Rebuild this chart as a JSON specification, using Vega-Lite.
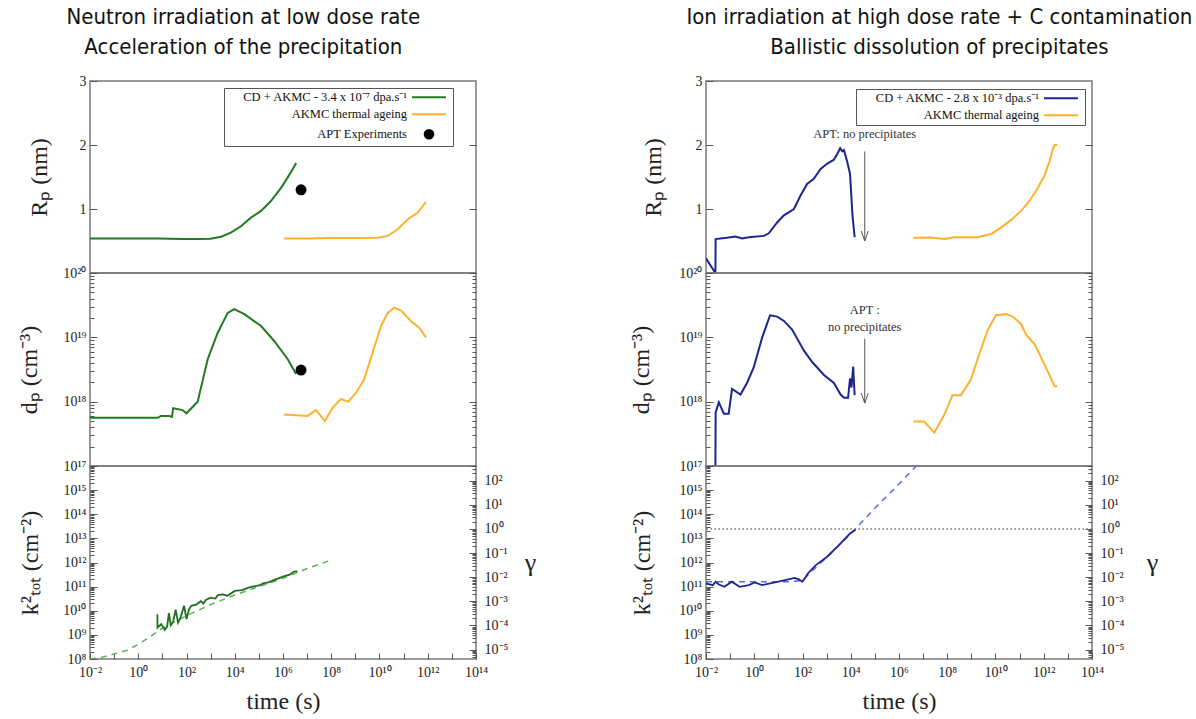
{
  "$schema": "https://vega.github.io/schema/vega-lite/v6.json",
  "background": "white",
  "padding": {"left": 16, "top": 6, "right": 5, "bottom": 5},
  "spacing": 91,
  "datasets": {
    "L_Rp": [
      {"t": 0.01, "Rp": 0.54, "series": "CD + AKMC - 3.4 x 10⁻⁷ dpa.s⁻¹"},
      {"t": 1, "Rp": 0.54, "series": "CD + AKMC - 3.4 x 10⁻⁷ dpa.s⁻¹"},
      {"t": 6.5, "Rp": 0.54, "series": "CD + AKMC - 3.4 x 10⁻⁷ dpa.s⁻¹"},
      {"t": 20, "Rp": 0.535, "series": "CD + AKMC - 3.4 x 10⁻⁷ dpa.s⁻¹"},
      {"t": 79, "Rp": 0.53, "series": "CD + AKMC - 3.4 x 10⁻⁷ dpa.s⁻¹"},
      {"t": 300, "Rp": 0.532, "series": "CD + AKMC - 3.4 x 10⁻⁷ dpa.s⁻¹"},
      {"t": 1000, "Rp": 0.535, "series": "CD + AKMC - 3.4 x 10⁻⁷ dpa.s⁻¹"},
      {"t": 2700, "Rp": 0.567, "series": "CD + AKMC - 3.4 x 10⁻⁷ dpa.s⁻¹"},
      {"t": 6900, "Rp": 0.63, "series": "CD + AKMC - 3.4 x 10⁻⁷ dpa.s⁻¹"},
      {"t": 18000, "Rp": 0.73, "series": "CD + AKMC - 3.4 x 10⁻⁷ dpa.s⁻¹"},
      {"t": 47000, "Rp": 0.865, "series": "CD + AKMC - 3.4 x 10⁻⁷ dpa.s⁻¹"},
      {"t": 123000, "Rp": 0.97, "series": "CD + AKMC - 3.4 x 10⁻⁷ dpa.s⁻¹"},
      {"t": 316000, "Rp": 1.125, "series": "CD + AKMC - 3.4 x 10⁻⁷ dpa.s⁻¹"},
      {"t": 830000, "Rp": 1.33, "series": "CD + AKMC - 3.4 x 10⁻⁷ dpa.s⁻¹"},
      {"t": 1550000, "Rp": 1.49, "series": "CD + AKMC - 3.4 x 10⁻⁷ dpa.s⁻¹"},
      {"t": 2500000, "Rp": 1.62, "series": "CD + AKMC - 3.4 x 10⁻⁷ dpa.s⁻¹"},
      {"t": 3500000, "Rp": 1.72, "series": "CD + AKMC - 3.4 x 10⁻⁷ dpa.s⁻¹"},
      {"t": 1.12e6, "Rp": 0.54, "series": "AKMC thermal ageing"},
      {"t": 1e7, "Rp": 0.54, "series": "AKMC thermal ageing"},
      {"t": 1e8, "Rp": 0.545, "series": "AKMC thermal ageing"},
      {"t": 1e9, "Rp": 0.545, "series": "AKMC thermal ageing"},
      {"t": 8.3e9, "Rp": 0.55, "series": "AKMC thermal ageing"},
      {"t": 2.2e10, "Rp": 0.58, "series": "AKMC thermal ageing"},
      {"t": 5.6e10, "Rp": 0.68, "series": "AKMC thermal ageing"},
      {"t": 1.48e11, "Rp": 0.84, "series": "AKMC thermal ageing"},
      {"t": 3.8e11, "Rp": 0.94, "series": "AKMC thermal ageing"},
      {"t": 8.5e11, "Rp": 1.11, "series": "AKMC thermal ageing"}
    ],
    "APT": [
      {"t": 5.6e6, "Rp": 1.3, "dp": 3.1e18, "series": "APT Experiments"}
    ],
    "L_dp": [
      {"t": 0.01, "dp": 5.6e17, "series": "CD + AKMC - 3.4 x 10⁻⁷ dpa.s⁻¹"},
      {"t": 6.5, "dp": 5.6e17, "series": "CD + AKMC - 3.4 x 10⁻⁷ dpa.s⁻¹"},
      {"t": 8.7, "dp": 6.0e17, "series": "CD + AKMC - 3.4 x 10⁻⁷ dpa.s⁻¹"},
      {"t": 19.5, "dp": 6.0e17, "series": "CD + AKMC - 3.4 x 10⁻⁷ dpa.s⁻¹"},
      {"t": 25, "dp": 5.8e17, "series": "CD + AKMC - 3.4 x 10⁻⁷ dpa.s⁻¹"},
      {"t": 28, "dp": 7.9e17, "series": "CD + AKMC - 3.4 x 10⁻⁷ dpa.s⁻¹"},
      {"t": 69, "dp": 7.4e17, "series": "CD + AKMC - 3.4 x 10⁻⁷ dpa.s⁻¹"},
      {"t": 100, "dp": 6.6e17, "series": "CD + AKMC - 3.4 x 10⁻⁷ dpa.s⁻¹"},
      {"t": 290, "dp": 1.0e18, "series": "CD + AKMC - 3.4 x 10⁻⁷ dpa.s⁻¹"},
      {"t": 760, "dp": 4.6e18, "series": "CD + AKMC - 3.4 x 10⁻⁷ dpa.s⁻¹"},
      {"t": 1950, "dp": 1.17e19, "series": "CD + AKMC - 3.4 x 10⁻⁷ dpa.s⁻¹"},
      {"t": 5100, "dp": 2.4e19, "series": "CD + AKMC - 3.4 x 10⁻⁷ dpa.s⁻¹"},
      {"t": 9500, "dp": 2.75e19, "series": "CD + AKMC - 3.4 x 10⁻⁷ dpa.s⁻¹"},
      {"t": 25000, "dp": 2.3e19, "series": "CD + AKMC - 3.4 x 10⁻⁷ dpa.s⁻¹"},
      {"t": 123000, "dp": 1.5e19, "series": "CD + AKMC - 3.4 x 10⁻⁷ dpa.s⁻¹"},
      {"t": 440000, "dp": 8.7e18, "series": "CD + AKMC - 3.4 x 10⁻⁷ dpa.s⁻¹"},
      {"t": 1550000, "dp": 4.6e18, "series": "CD + AKMC - 3.4 x 10⁻⁷ dpa.s⁻¹"},
      {"t": 3500000, "dp": 2.7e18, "series": "CD + AKMC - 3.4 x 10⁻⁷ dpa.s⁻¹"},
      {"t": 1.12e6, "dp": 6.3e17, "series": "AKMC thermal ageing"},
      {"t": 1.05e7, "dp": 6.0e17, "series": "AKMC thermal ageing"},
      {"t": 2.3e7, "dp": 7.4e17, "series": "AKMC thermal ageing"},
      {"t": 5.5e7, "dp": 5.0e17, "series": "AKMC thermal ageing"},
      {"t": 1.15e8, "dp": 8.1e17, "series": "AKMC thermal ageing"},
      {"t": 2.5e8, "dp": 1.1e18, "series": "AKMC thermal ageing"},
      {"t": 5.1e8, "dp": 1.0e18, "series": "AKMC thermal ageing"},
      {"t": 1.07e9, "dp": 1.38e18, "series": "AKMC thermal ageing"},
      {"t": 2.3e9, "dp": 2.2e18, "series": "AKMC thermal ageing"},
      {"t": 5.2e9, "dp": 5.8e18, "series": "AKMC thermal ageing"},
      {"t": 1.15e10, "dp": 1.5e19, "series": "AKMC thermal ageing"},
      {"t": 2.2e10, "dp": 2.4e19, "series": "AKMC thermal ageing"},
      {"t": 4.1e10, "dp": 2.9e19, "series": "AKMC thermal ageing"},
      {"t": 7.8e10, "dp": 2.6e19, "series": "AKMC thermal ageing"},
      {"t": 2.0e11, "dp": 1.8e19, "series": "AKMC thermal ageing"},
      {"t": 4.5e11, "dp": 1.4e19, "series": "AKMC thermal ageing"},
      {"t": 8.5e11, "dp": 1.0e19, "series": "AKMC thermal ageing"}
    ],
    "L_k2": [
      {"t": 6.2, "k2": 7.2e9}, {"t": 6.3, "k2": 2.0e9}, {"t": 8.9, "k2": 2.8e9}, {"t": 12.6, "k2": 1.6e9},
      {"t": 15.8, "k2": 2.2e9}, {"t": 18.6, "k2": 7.9e9}, {"t": 22.4, "k2": 2.5e9}, {"t": 28, "k2": 3.5e9},
      {"t": 35.5, "k2": 1.12e10}, {"t": 44.7, "k2": 3.2e9}, {"t": 56, "k2": 5.0e9}, {"t": 79, "k2": 1.6e10},
      {"t": 100, "k2": 4.5e9}, {"t": 126, "k2": 1.12e10}, {"t": 158, "k2": 1.6e10}, {"t": 251, "k2": 1.8e10},
      {"t": 398, "k2": 2.5e10}, {"t": 500, "k2": 2.0e10}, {"t": 631, "k2": 2.8e10}, {"t": 1000, "k2": 3.5e10},
      {"t": 1585, "k2": 3.2e10}, {"t": 2000, "k2": 4.5e10}, {"t": 3160, "k2": 4.8e10}, {"t": 5000, "k2": 4.2e10},
      {"t": 10000, "k2": 6.6e10}, {"t": 20000, "k2": 7.1e10}, {"t": 40000, "k2": 9.3e10}, {"t": 100000, "k2": 1.12e11},
      {"t": 160000, "k2": 1.4e11}, {"t": 250000, "k2": 1.5e11}, {"t": 500000, "k2": 2.0e11}, {"t": 1000000, "k2": 2.6e11},
      {"t": 2000000, "k2": 3.2e11}, {"t": 2800000, "k2": 4.2e11}, {"t": 4000000, "k2": 4.3e11}
    ],
    "L_k2fit": [
      {"t": 0.01, "k2": 1.0e8}, {"t": 0.03, "k2": 1.17e8}, {"t": 0.1, "k2": 1.6e8}, {"t": 0.32, "k2": 2.24e8},
      {"t": 1, "k2": 4.0e8}, {"t": 3.2, "k2": 8.5e8}, {"t": 10, "k2": 1.9e9}, {"t": 100, "k2": 6.3e9},
      {"t": 1000, "k2": 1.8e10}, {"t": 10000, "k2": 4.5e10}, {"t": 100000, "k2": 1.0e11}, {"t": 1000000, "k2": 2.2e11},
      {"t": 10000000, "k2": 5.6e11}, {"t": 100000000, "k2": 1.26e12}
    ],
    "R_Rp": [
      {"t": 0.01, "Rp": 0.23, "series": "CD + AKMC - 2.8 x 10⁻³ dpa.s⁻¹"},
      {"t": 0.0245, "Rp": 0.0, "series": "CD + AKMC - 2.8 x 10⁻³ dpa.s⁻¹"},
      {"t": 0.0251, "Rp": 0.53, "series": "CD + AKMC - 2.8 x 10⁻³ dpa.s⁻¹"},
      {"t": 0.074, "Rp": 0.55, "series": "CD + AKMC - 2.8 x 10⁻³ dpa.s⁻¹"},
      {"t": 0.166, "Rp": 0.57, "series": "CD + AKMC - 2.8 x 10⁻³ dpa.s⁻¹"},
      {"t": 0.316, "Rp": 0.54, "series": "CD + AKMC - 2.8 x 10⁻³ dpa.s⁻¹"},
      {"t": 0.59, "Rp": 0.56, "series": "CD + AKMC - 2.8 x 10⁻³ dpa.s⁻¹"},
      {"t": 2.5, "Rp": 0.58, "series": "CD + AKMC - 2.8 x 10⁻³ dpa.s⁻¹"},
      {"t": 4.0, "Rp": 0.62, "series": "CD + AKMC - 2.8 x 10⁻³ dpa.s⁻¹"},
      {"t": 8.9, "Rp": 0.79, "series": "CD + AKMC - 2.8 x 10⁻³ dpa.s⁻¹"},
      {"t": 17, "Rp": 0.9, "series": "CD + AKMC - 2.8 x 10⁻³ dpa.s⁻¹"},
      {"t": 44, "Rp": 1.0, "series": "CD + AKMC - 2.8 x 10⁻³ dpa.s⁻¹"},
      {"t": 83, "Rp": 1.21, "series": "CD + AKMC - 2.8 x 10⁻³ dpa.s⁻¹"},
      {"t": 155, "Rp": 1.39, "series": "CD + AKMC - 2.8 x 10⁻³ dpa.s⁻¹"},
      {"t": 295, "Rp": 1.47, "series": "CD + AKMC - 2.8 x 10⁻³ dpa.s⁻¹"},
      {"t": 562, "Rp": 1.625, "series": "CD + AKMC - 2.8 x 10⁻³ dpa.s⁻¹"},
      {"t": 1070, "Rp": 1.71, "series": "CD + AKMC - 2.8 x 10⁻³ dpa.s⁻¹"},
      {"t": 2000, "Rp": 1.77, "series": "CD + AKMC - 2.8 x 10⁻³ dpa.s⁻¹"},
      {"t": 2750, "Rp": 1.86, "series": "CD + AKMC - 2.8 x 10⁻³ dpa.s⁻¹"},
      {"t": 3630, "Rp": 1.95, "series": "CD + AKMC - 2.8 x 10⁻³ dpa.s⁻¹"},
      {"t": 4470, "Rp": 1.9, "series": "CD + AKMC - 2.8 x 10⁻³ dpa.s⁻¹"},
      {"t": 5250, "Rp": 1.92, "series": "CD + AKMC - 2.8 x 10⁻³ dpa.s⁻¹"},
      {"t": 7240, "Rp": 1.73, "series": "CD + AKMC - 2.8 x 10⁻³ dpa.s⁻¹"},
      {"t": 9330, "Rp": 1.55, "series": "CD + AKMC - 2.8 x 10⁻³ dpa.s⁻¹"},
      {"t": 11700, "Rp": 0.92, "series": "CD + AKMC - 2.8 x 10⁻³ dpa.s⁻¹"},
      {"t": 14500, "Rp": 0.56, "series": "CD + AKMC - 2.8 x 10⁻³ dpa.s⁻¹"},
      {"t": 3.9e6, "Rp": 0.55, "series": "AKMC thermal ageing"},
      {"t": 2e7, "Rp": 0.555, "series": "AKMC thermal ageing"},
      {"t": 7.6e7, "Rp": 0.53, "series": "AKMC thermal ageing"},
      {"t": 1.95e8, "Rp": 0.56, "series": "AKMC thermal ageing"},
      {"t": 1.8e9, "Rp": 0.56, "series": "AKMC thermal ageing"},
      {"t": 6.6e9, "Rp": 0.61, "series": "AKMC thermal ageing"},
      {"t": 1.7e10, "Rp": 0.71, "series": "AKMC thermal ageing"},
      {"t": 4.5e10, "Rp": 0.83, "series": "AKMC thermal ageing"},
      {"t": 1.15e11, "Rp": 0.97, "series": "AKMC thermal ageing"},
      {"t": 2.6e11, "Rp": 1.13, "series": "AKMC thermal ageing"},
      {"t": 4.9e11, "Rp": 1.29, "series": "AKMC thermal ageing"},
      {"t": 1.07e12, "Rp": 1.52, "series": "AKMC thermal ageing"},
      {"t": 1.74e12, "Rp": 1.75, "series": "AKMC thermal ageing"},
      {"t": 2.4e12, "Rp": 1.94, "series": "AKMC thermal ageing"},
      {"t": 2.8e12, "Rp": 2.0, "series": "AKMC thermal ageing"},
      {"t": 3.6e12, "Rp": 2.0, "series": "AKMC thermal ageing"}
    ],
    "R_dp": [
      {"t": 0.0245, "dp": 7.9e16, "series": "CD + AKMC - 2.8 x 10⁻³ dpa.s⁻¹"},
      {"t": 0.0251, "dp": 6.8e17, "series": "CD + AKMC - 2.8 x 10⁻³ dpa.s⁻¹"},
      {"t": 0.034, "dp": 9.8e17, "series": "CD + AKMC - 2.8 x 10⁻³ dpa.s⁻¹"},
      {"t": 0.055, "dp": 6.5e17, "series": "CD + AKMC - 2.8 x 10⁻³ dpa.s⁻¹"},
      {"t": 0.087, "dp": 6.5e17, "series": "CD + AKMC - 2.8 x 10⁻³ dpa.s⁻¹"},
      {"t": 0.12, "dp": 1.58e18, "series": "CD + AKMC - 2.8 x 10⁻³ dpa.s⁻¹"},
      {"t": 0.27, "dp": 1.29e18, "series": "CD + AKMC - 2.8 x 10⁻³ dpa.s⁻¹"},
      {"t": 0.5, "dp": 1.95e18, "series": "CD + AKMC - 2.8 x 10⁻³ dpa.s⁻¹"},
      {"t": 0.95, "dp": 3.4e18, "series": "CD + AKMC - 2.8 x 10⁻³ dpa.s⁻¹"},
      {"t": 2.1, "dp": 9.8e18, "series": "CD + AKMC - 2.8 x 10⁻³ dpa.s⁻¹"},
      {"t": 4.5, "dp": 2.2e19, "series": "CD + AKMC - 2.8 x 10⁻³ dpa.s⁻¹"},
      {"t": 8.9, "dp": 2.1e19, "series": "CD + AKMC - 2.8 x 10⁻³ dpa.s⁻¹"},
      {"t": 17, "dp": 1.8e19, "series": "CD + AKMC - 2.8 x 10⁻³ dpa.s⁻¹"},
      {"t": 37, "dp": 1.32e19, "series": "CD + AKMC - 2.8 x 10⁻³ dpa.s⁻¹"},
      {"t": 115, "dp": 6.2e18, "series": "CD + AKMC - 2.8 x 10⁻³ dpa.s⁻¹"},
      {"t": 257, "dp": 4.1e18, "series": "CD + AKMC - 2.8 x 10⁻³ dpa.s⁻¹"},
      {"t": 776, "dp": 2.6e18, "series": "CD + AKMC - 2.8 x 10⁻³ dpa.s⁻¹"},
      {"t": 2000, "dp": 1.95e18, "series": "CD + AKMC - 2.8 x 10⁻³ dpa.s⁻¹"},
      {"t": 3800, "dp": 1.29e18, "series": "CD + AKMC - 2.8 x 10⁻³ dpa.s⁻¹"},
      {"t": 5250, "dp": 1.15e18, "series": "CD + AKMC - 2.8 x 10⁻³ dpa.s⁻¹"},
      {"t": 7760, "dp": 1.15e18, "series": "CD + AKMC - 2.8 x 10⁻³ dpa.s⁻¹"},
      {"t": 9330, "dp": 2.3e18, "series": "CD + AKMC - 2.8 x 10⁻³ dpa.s⁻¹"},
      {"t": 10700, "dp": 1.66e18, "series": "CD + AKMC - 2.8 x 10⁻³ dpa.s⁻¹"},
      {"t": 12600, "dp": 3.5e18, "series": "CD + AKMC - 2.8 x 10⁻³ dpa.s⁻¹"},
      {"t": 14500, "dp": 1.26e18, "series": "CD + AKMC - 2.8 x 10⁻³ dpa.s⁻¹"},
      {"t": 3.9e6, "dp": 4.9e17, "series": "AKMC thermal ageing"},
      {"t": 1.1e7, "dp": 4.9e17, "series": "AKMC thermal ageing"},
      {"t": 2.9e7, "dp": 3.3e17, "series": "AKMC thermal ageing"},
      {"t": 7.6e7, "dp": 6.3e17, "series": "AKMC thermal ageing"},
      {"t": 1.66e8, "dp": 1.26e18, "series": "AKMC thermal ageing"},
      {"t": 3.7e8, "dp": 1.26e18, "series": "AKMC thermal ageing"},
      {"t": 9.5e8, "dp": 2.2e18, "series": "AKMC thermal ageing"},
      {"t": 2.1e9, "dp": 5.4e18, "series": "AKMC thermal ageing"},
      {"t": 4.8e9, "dp": 1.32e19, "series": "AKMC thermal ageing"},
      {"t": 1.05e10, "dp": 2.2e19, "series": "AKMC thermal ageing"},
      {"t": 2.75e10, "dp": 2.3e19, "series": "AKMC thermal ageing"},
      {"t": 5.2e10, "dp": 2.1e19, "series": "AKMC thermal ageing"},
      {"t": 1.15e11, "dp": 1.6e19, "series": "AKMC thermal ageing"},
      {"t": 1.86e11, "dp": 1.1e19, "series": "AKMC thermal ageing"},
      {"t": 4.2e11, "dp": 7.8e18, "series": "AKMC thermal ageing"},
      {"t": 9.1e11, "dp": 4.3e18, "series": "AKMC thermal ageing"},
      {"t": 2.0e12, "dp": 2.3e18, "series": "AKMC thermal ageing"},
      {"t": 2.8e12, "dp": 1.74e18, "series": "AKMC thermal ageing"},
      {"t": 3.6e12, "dp": 1.74e18, "series": "AKMC thermal ageing"}
    ],
    "R_k2": [
      {"t": 0.01, "k2": 1.35e11}, {"t": 0.019, "k2": 1.15e11}, {"t": 0.025, "k2": 1.6e11}, {"t": 0.033, "k2": 1.26e11},
      {"t": 0.058, "k2": 9.8e10}, {"t": 0.117, "k2": 1.6e11}, {"t": 0.245, "k2": 9.8e10}, {"t": 0.6, "k2": 1.15e11},
      {"t": 1.05, "k2": 1.48e11}, {"t": 2.1, "k2": 1.15e11}, {"t": 6.5, "k2": 1.48e11}, {"t": 19, "k2": 1.86e11},
      {"t": 47, "k2": 2.3e11}, {"t": 71, "k2": 2.0e11}, {"t": 98, "k2": 1.6e11}, {"t": 126, "k2": 2.2e11},
      {"t": 166, "k2": 3.5e11}, {"t": 347, "k2": 7.6e11}, {"t": 1020, "k2": 1.7e12}, {"t": 3090, "k2": 5.0e12},
      {"t": 9120, "k2": 1.55e13}, {"t": 15800, "k2": 2.3e13}
    ],
    "R_k2fit": [
      {"t": 0.01, "k2": 1.6e11}, {"t": 31.6, "k2": 1.6e11}, {"t": 100, "k2": 1.8e11}, {"t": 316, "k2": 5.6e11},
      {"t": 1000, "k2": 1.6e12}, {"t": 3160, "k2": 5.0e12}, {"t": 15800, "k2": 2.5e13}, {"t": 100000, "k2": 1.8e14},
      {"t": 1000000, "k2": 1.8e15}, {"t": 10000000, "k2": 2.0e16}
    ],
    "gamma": [{"gamma": 1}],
    "R_arrRp": [{"t": 38000, "y1": 1.9, "y2": 0.5}],
    "R_arrDp": [{"t": 38000, "y1": 9.5e18, "y2": 9.5e17}],
    "R_txtRp": [{"t": 38000, "Rp": 2.17, "label": "APT: no precipitates"}],
    "R_txtDp": [
      {"t": 38000, "dp": 2.7e19, "label": "APT :"},
      {"t": 38000, "dp": 1.45e19, "label": "no precipitates"}
    ]
  },
  "hconcat": [
    {
      "title": {"text": ["Neutron irradiation at low dose rate", "Acceleration of the precipitation"], "anchor": "middle", "fontSize": 22, "fontWeight": "normal", "color": "#111", "lineHeight": 30, "offset": 14, "dx": -33},
      "spacing": 0,
      "bounds": "flush",
      "resolve": {"scale": {"color": "independent", "x": "independent", "y": "independent"}},
      "vconcat": [
        {
          "width": 386, "height": 192,
          "layer": [
            {"layer": [
              {"data": {"name": "L_Rp"}, "mark": {"type": "line", "strokeWidth": 2, "clip": true},
               "encoding": {
                 "x": {"field": "t", "type": "quantitative", "scale": {"type": "log", "domain": [0.01, 1e14], "nice": false}, "axis": null},
                 "y": {"field": "Rp", "type": "quantitative", "scale": {"domain": [0, 3], "nice": false, "zero": false},
                       "axis": {"orient": "left", "values": [1, 2, 3], "format": "d", "tickSize": -7, "labelPadding": 11, "title": "Rₚ (nm)", "titleAngle": 270, "titleAlign": "center", "titleBaseline": "middle", "titleX": -51, "titleY": 96}},
                 "color": {"field": "series", "type": "nominal",
                   "scale": {"domain": ["CD + AKMC - 3.4 x 10⁻⁷ dpa.s⁻¹", "AKMC thermal ageing", "APT Experiments"], "range": ["#237a23", "#ffb12e", "#000000"]},
                   "legend": {"orient": "none", "legendX": 134, "legendY": 7, "title": null, "direction": "vertical",
                     "strokeColor": "#555", "fillColor": "white", "padding": 3, "rowPadding": 4,
                     "labelFont": "Liberation Serif", "labelFontSize": 12.5, "labelColor": "#111", "labelAlign": "right", "labelLimit": 0,
                     "symbolType": "M-4,0H4", "symbolSize": 72, "symbolStrokeWidth": 2,
                     "encode": {
                       "labels": {"update": {"x": {"value": 180}}},
                       "symbols": {"update": {"x": {"value": 202}, "shape": {"signal": "datum.value === 'APT Experiments' ? 'circle' : 'M-4,0H4'"}, "size": {"signal": "datum.value === 'APT Experiments' ? 75 : 72"}, "fill": {"signal": "datum.value === 'APT Experiments' ? 'black' : 'transparent'"}}}
                     }}}
               }},
              {"data": {"name": "APT"}, "mark": {"type": "point", "filled": true, "size": 120, "opacity": 1},
               "encoding": {"x": {"field": "t", "type": "quantitative"}, "y": {"field": "Rp", "type": "quantitative"}, "color": {"field": "series", "type": "nominal"}}}
            ]},
            {"data": {"name": "L_Rp"}, "mark": {"type": "point", "opacity": 0},
             "encoding": {"x": {"field": "t", "type": "quantitative"},
               "y": {"field": "Rp", "type": "quantitative", "scale": {"domain": [0, 3], "nice": false, "zero": false}, "axis": {"orient": "right", "values": [1, 2], "tickSize": -7, "labels": false, "title": null}}}}
          ],
          "resolve": {"scale": {"y": "independent"}}
        },
        {
          "width": 386, "height": 193,
          "layer": [
            {"layer": [
              {"data": {"name": "L_dp"}, "mark": {"type": "line", "strokeWidth": 2, "clip": true},
               "encoding": {
                 "x": {"field": "t", "type": "quantitative", "scale": {"type": "log", "domain": [0.01, 1e14], "nice": false}, "axis": null},
                 "y": {"field": "dp", "type": "quantitative", "scale": {"type": "log", "domain": [1e17, 1e20], "nice": false},
                       "axis": {"orient": "left", "values": [1e17,2e17,3e17,4e17,5e17,6e17,7e17,8e17,9e17,1e18,2e18,3e18,4e18,5e18,6e18,7e18,8e18,9e18,1e19,2e19,3e19,4e19,5e19,6e19,7e19,8e19,9e19,1e20],
                         "tickSize": {"condition": {"test": "abs(log(datum.value)/LN10 - round(log(datum.value)/LN10)) < 0.001", "value": -7}, "value": -4},
                         "labelPadding": 11,
                         "labelExpr": "abs(log(datum.value)/LN10 - round(log(datum.value)/LN10)) < 0.001 ? '10' + (round(log(datum.value)/LN10) < 0 ? '⁻' : '') + (abs(round(log(datum.value)/LN10)) >= 10 ? substring('⁰¹²³⁴⁵⁶⁷⁸⁹', floor(abs(round(log(datum.value)/LN10))/10), floor(abs(round(log(datum.value)/LN10))/10) + 1) : '') + substring('⁰¹²³⁴⁵⁶⁷⁸⁹', abs(round(log(datum.value)/LN10)) % 10, abs(round(log(datum.value)/LN10)) % 10 + 1) : ''",
                         "title": "dₚ (cm⁻³)", "titleAngle": 270, "titleAlign": "center", "titleBaseline": "middle", "titleX": -61, "titleY": 96.5}},
                 "color": {"field": "series", "type": "nominal",
                   "scale": {"domain": ["CD + AKMC - 3.4 x 10⁻⁷ dpa.s⁻¹", "AKMC thermal ageing", "APT Experiments"], "range": ["#237a23", "#ffb12e", "#000000"]}, "legend": null}
               }},
              {"data": {"name": "APT"}, "mark": {"type": "point", "filled": true, "size": 120, "opacity": 1},
               "encoding": {"x": {"field": "t", "type": "quantitative"}, "y": {"field": "dp", "type": "quantitative"}, "color": {"field": "series", "type": "nominal"}}}
            ]},
            {"data": {"name": "L_dp"}, "mark": {"type": "point", "opacity": 0},
             "encoding": {"x": {"field": "t", "type": "quantitative"},
               "y": {"field": "dp", "type": "quantitative", "scale": {"type": "log", "domain": [1e17, 1e20], "nice": false},
                 "axis": {"orient": "right", "values": [1e17,2e17,3e17,4e17,5e17,6e17,7e17,8e17,9e17,1e18,2e18,3e18,4e18,5e18,6e18,7e18,8e18,9e18,1e19,2e19,3e19,4e19,5e19,6e19,7e19,8e19,9e19,1e20],
                   "tickSize": {"condition": {"test": "abs(log(datum.value)/LN10 - round(log(datum.value)/LN10)) < 0.001", "value": -7}, "value": -4},
                   "labels": false, "title": null}}}}
          ],
          "resolve": {"scale": {"y": "independent"}}
        },
        {
          "width": 386, "height": 193,
          "layer": [
            {"layer": [
              {"data": {"name": "L_k2fit"}, "mark": {"type": "line", "color": "#5cae5c", "strokeWidth": 1.5, "strokeDash": [6, 5], "clip": true},
               "encoding": {
                 "x": {"field": "t", "type": "quantitative", "scale": {"type": "log", "domain": [0.01, 1e14], "nice": false},
                       "axis": {"values": [1e-2,1e-1,1,10,100,1e3,1e4,1e5,1e6,1e7,1e8,1e9,1e10,1e11,1e12,1e13,1e14], "tickSize": -6, "labelPadding": 12,
                         "labelExpr": "round(log(datum.value)/LN10) % 2 == 0 ? '10' + (round(log(datum.value)/LN10) < 0 ? '⁻' : '') + (abs(round(log(datum.value)/LN10)) >= 10 ? substring('⁰¹²³⁴⁵⁶⁷⁸⁹', floor(abs(round(log(datum.value)/LN10))/10), floor(abs(round(log(datum.value)/LN10))/10) + 1) : '') + substring('⁰¹²³⁴⁵⁶⁷⁸⁹', abs(round(log(datum.value)/LN10)) % 10, abs(round(log(datum.value)/LN10)) % 10 + 1) : ''",
                         "title": "time (s)", "titlePadding": 10}},
                 "y": {"field": "k2", "type": "quantitative", "scale": {"type": "log", "domain": [1e8, 1e16], "nice": false},
                       "axis": {"orient": "left", "values": [1e8,2e8,3e8,4e8,5e8,6e8,7e8,8e8,9e8,1e9,2e9,3e9,4e9,5e9,6e9,7e9,8e9,9e9,1e10,2e10,3e10,4e10,5e10,6e10,7e10,8e10,9e10,1e11,2e11,3e11,4e11,5e11,6e11,7e11,8e11,9e11,1e12,2e12,3e12,4e12,5e12,6e12,7e12,8e12,9e12,1e13,2e13,3e13,4e13,5e13,6e13,7e13,8e13,9e13,1e14,2e14,3e14,4e14,5e14,6e14,7e14,8e14,9e14,1e15,2e15,3e15,4e15,5e15,6e15,7e15,8e15,9e15,1e16],
                         "tickSize": {"condition": {"test": "abs(log(datum.value)/LN10 - round(log(datum.value)/LN10)) < 0.001", "value": -7}, "value": -4},
                         "labelPadding": 11,
                         "labelExpr": "abs(log(datum.value)/LN10 - round(log(datum.value)/LN10)) < 0.001 && round(log(datum.value)/LN10) <= 15 ? '10' + (round(log(datum.value)/LN10) < 0 ? '⁻' : '') + (abs(round(log(datum.value)/LN10)) >= 10 ? substring('⁰¹²³⁴⁵⁶⁷⁸⁹', floor(abs(round(log(datum.value)/LN10))/10), floor(abs(round(log(datum.value)/LN10))/10) + 1) : '') + substring('⁰¹²³⁴⁵⁶⁷⁸⁹', abs(round(log(datum.value)/LN10)) % 10, abs(round(log(datum.value)/LN10)) % 10 + 1) : ''",
                         "title": "k²ₜₒₜ (cm⁻²)", "titleAngle": 270, "titleAlign": "center", "titleBaseline": "middle", "titleX": -60, "titleY": 96.5}}
               }},
              {"data": {"name": "L_k2"}, "mark": {"type": "line", "color": "#1f6f1f", "strokeWidth": 1.8, "clip": true},
               "encoding": {"x": {"field": "t", "type": "quantitative"}, "y": {"field": "k2", "type": "quantitative"}}}
            ]},
            {"data": {"name": "gamma"}, "mark": {"type": "rule", "opacity": 0},
             "encoding": {"y": {"field": "gamma", "type": "quantitative", "scale": {"type": "log", "domain": [4.07e-6, 407.4], "nice": false},
               "axis": {"orient": "right", "values": [5e-6,6e-6,7e-6,8e-6,9e-6,1e-5,2e-5,3e-5,4e-5,5e-5,6e-5,7e-5,8e-5,9e-5,1e-4,2e-4,3e-4,4e-4,5e-4,6e-4,7e-4,8e-4,9e-4,1e-3,2e-3,3e-3,4e-3,5e-3,6e-3,7e-3,8e-3,9e-3,1e-2,2e-2,3e-2,4e-2,5e-2,6e-2,7e-2,8e-2,9e-2,0.1,0.2,0.3,0.4,0.5,0.6,0.7,0.8,0.9,1,2,3,4,5,6,7,8,9,10,20,30,40,50,60,70,80,90,100,200,300,400],
                 "tickSize": {"condition": {"test": "abs(log(datum.value)/LN10 - round(log(datum.value)/LN10)) < 0.001", "value": -7}, "value": -4},
                 "labelPadding": 15,
                 "labelExpr": "abs(log(datum.value)/LN10 - round(log(datum.value)/LN10)) < 0.001 ? '10' + (round(log(datum.value)/LN10) < 0 ? '⁻' : '') + (abs(round(log(datum.value)/LN10)) >= 10 ? substring('⁰¹²³⁴⁵⁶⁷⁸⁹', floor(abs(round(log(datum.value)/LN10))/10), floor(abs(round(log(datum.value)/LN10))/10) + 1) : '') + substring('⁰¹²³⁴⁵⁶⁷⁸⁹', abs(round(log(datum.value)/LN10)) % 10, abs(round(log(datum.value)/LN10)) % 10 + 1) : ''",
                 "title": "γ", "titleFontSize": 26, "titleAngle": 0, "titleAlign": "center", "titleBaseline": "middle", "titleX": 54, "titleY": 96.5}}}}
          ],
          "resolve": {"scale": {"y": "independent"}}
        }
      ]
    },
    {
      "title": {"text": ["Ion irradiation at high dose rate + C contamination", "Ballistic dissolution of precipitates"], "anchor": "middle", "fontSize": 22, "fontWeight": "normal", "color": "#111", "lineHeight": 30, "offset": 14, "dx": 46},
      "spacing": 0,
      "bounds": "flush",
      "resolve": {"scale": {"color": "independent", "x": "independent", "y": "independent"}},
      "vconcat": [
        {
          "width": 386, "height": 192,
          "layer": [
            {"layer": [
              {"data": {"name": "R_Rp"}, "mark": {"type": "line", "strokeWidth": 2, "clip": true},
               "encoding": {
                 "x": {"field": "t", "type": "quantitative", "scale": {"type": "log", "domain": [0.01, 1e14], "nice": false}, "axis": null},
                 "y": {"field": "Rp", "type": "quantitative", "scale": {"domain": [0, 3], "nice": false, "zero": false},
                       "axis": {"orient": "left", "values": [1, 2, 3], "format": "d", "tickSize": -7, "labelPadding": 11, "title": "Rₚ (nm)", "titleAngle": 270, "titleAlign": "center", "titleBaseline": "middle", "titleX": -53, "titleY": 96}},
                 "color": {"field": "series", "type": "nominal",
                   "scale": {"domain": ["CD + AKMC - 2.8 x 10⁻³ dpa.s⁻¹", "AKMC thermal ageing"], "range": ["#1c2590", "#ffb12e"]},
                   "legend": {"orient": "none", "legendX": 150, "legendY": 8, "title": null, "direction": "vertical",
                     "strokeColor": "#555", "fillColor": "white", "padding": 3, "rowPadding": 4,
                     "labelFont": "Liberation Serif", "labelFontSize": 12.5, "labelColor": "#111", "labelAlign": "right", "labelLimit": 0,
                     "symbolType": "M-4,0H4", "symbolSize": 72, "symbolStrokeWidth": 2,
                     "encode": {
                       "labels": {"update": {"x": {"value": 180}}},
                       "symbols": {"update": {"x": {"value": 202}, "fill": {"value": "transparent"}}}
                     }}}
               }},
              {"data": {"name": "R_arrRp"}, "mark": {"type": "rule", "color": "#555", "strokeWidth": 1},
               "encoding": {"x": {"field": "t", "type": "quantitative"}, "y": {"field": "y1", "type": "quantitative"}, "y2": {"field": "y2"}}},
              {"data": {"name": "R_arrRp"}, "mark": {"type": "point", "shape": "M-0.35,-1L0,0L0.35,-1", "size": 400, "filled": false, "color": "#555", "strokeWidth": 1, "opacity": 1},
               "encoding": {"x": {"field": "t", "type": "quantitative"}, "y": {"field": "y2", "type": "quantitative"}}},
              {"data": {"name": "R_txtRp"}, "mark": {"type": "text", "font": "Liberation Serif", "fontSize": 12.5, "color": "#333"},
               "encoding": {"x": {"field": "t", "type": "quantitative"}, "y": {"field": "Rp", "type": "quantitative"}, "text": {"field": "label"}}}
            ]},
            {"data": {"name": "R_Rp"}, "mark": {"type": "point", "opacity": 0},
             "encoding": {"x": {"field": "t", "type": "quantitative"},
               "y": {"field": "Rp", "type": "quantitative", "scale": {"domain": [0, 3], "nice": false, "zero": false}, "axis": {"orient": "right", "values": [1, 2], "tickSize": -7, "labels": false, "title": null}}}}
          ],
          "resolve": {"scale": {"y": "independent"}}
        },
        {
          "width": 386, "height": 193,
          "layer": [
            {"layer": [
              {"data": {"name": "R_dp"}, "mark": {"type": "line", "strokeWidth": 2, "clip": true},
               "encoding": {
                 "x": {"field": "t", "type": "quantitative", "scale": {"type": "log", "domain": [0.01, 1e14], "nice": false}, "axis": null},
                 "y": {"field": "dp", "type": "quantitative", "scale": {"type": "log", "domain": [1e17, 1e20], "nice": false},
                       "axis": {"orient": "left", "values": [1e17,2e17,3e17,4e17,5e17,6e17,7e17,8e17,9e17,1e18,2e18,3e18,4e18,5e18,6e18,7e18,8e18,9e18,1e19,2e19,3e19,4e19,5e19,6e19,7e19,8e19,9e19,1e20],
                         "tickSize": {"condition": {"test": "abs(log(datum.value)/LN10 - round(log(datum.value)/LN10)) < 0.001", "value": -7}, "value": -4},
                         "labelPadding": 11,
                         "labelExpr": "abs(log(datum.value)/LN10 - round(log(datum.value)/LN10)) < 0.001 ? '10' + (round(log(datum.value)/LN10) < 0 ? '⁻' : '') + (abs(round(log(datum.value)/LN10)) >= 10 ? substring('⁰¹²³⁴⁵⁶⁷⁸⁹', floor(abs(round(log(datum.value)/LN10))/10), floor(abs(round(log(datum.value)/LN10))/10) + 1) : '') + substring('⁰¹²³⁴⁵⁶⁷⁸⁹', abs(round(log(datum.value)/LN10)) % 10, abs(round(log(datum.value)/LN10)) % 10 + 1) : ''",
                         "title": "dₚ (cm⁻³)", "titleAngle": 270, "titleAlign": "center", "titleBaseline": "middle", "titleX": -65, "titleY": 96.5}},
                 "color": {"field": "series", "type": "nominal",
                   "scale": {"domain": ["CD + AKMC - 2.8 x 10⁻³ dpa.s⁻¹", "AKMC thermal ageing"], "range": ["#1c2590", "#ffb12e"]}, "legend": null}
               }},
              {"data": {"name": "R_arrDp"}, "mark": {"type": "rule", "color": "#555", "strokeWidth": 1},
               "encoding": {"x": {"field": "t", "type": "quantitative"}, "y": {"field": "y1", "type": "quantitative"}, "y2": {"field": "y2"}}},
              {"data": {"name": "R_arrDp"}, "mark": {"type": "point", "shape": "M-0.35,-1L0,0L0.35,-1", "size": 400, "filled": false, "color": "#555", "strokeWidth": 1, "opacity": 1},
               "encoding": {"x": {"field": "t", "type": "quantitative"}, "y": {"field": "y2", "type": "quantitative"}}},
              {"data": {"name": "R_txtDp"}, "mark": {"type": "text", "font": "Liberation Serif", "fontSize": 12.5, "color": "#333"},
               "encoding": {"x": {"field": "t", "type": "quantitative"}, "y": {"field": "dp", "type": "quantitative"}, "text": {"field": "label"}}}
            ]},
            {"data": {"name": "R_dp"}, "mark": {"type": "point", "opacity": 0},
             "encoding": {"x": {"field": "t", "type": "quantitative"},
               "y": {"field": "dp", "type": "quantitative", "scale": {"type": "log", "domain": [1e17, 1e20], "nice": false},
                 "axis": {"orient": "right", "values": [1e17,2e17,3e17,4e17,5e17,6e17,7e17,8e17,9e17,1e18,2e18,3e18,4e18,5e18,6e18,7e18,8e18,9e18,1e19,2e19,3e19,4e19,5e19,6e19,7e19,8e19,9e19,1e20],
                   "tickSize": {"condition": {"test": "abs(log(datum.value)/LN10 - round(log(datum.value)/LN10)) < 0.001", "value": -7}, "value": -4},
                   "labels": false, "title": null}}}}
          ],
          "resolve": {"scale": {"y": "independent"}}
        },
        {
          "width": 386, "height": 193,
          "layer": [
            {"layer": [
              {"data": {"name": "R_k2fit"}, "mark": {"type": "line", "color": "#5b6bd6", "strokeWidth": 1.5, "strokeDash": [6, 5], "clip": true},
               "encoding": {
                 "x": {"field": "t", "type": "quantitative", "scale": {"type": "log", "domain": [0.01, 1e14], "nice": false},
                       "axis": {"values": [1e-2,1e-1,1,10,100,1e3,1e4,1e5,1e6,1e7,1e8,1e9,1e10,1e11,1e12,1e13,1e14], "tickSize": -6, "labelPadding": 12,
                         "labelExpr": "round(log(datum.value)/LN10) % 2 == 0 ? '10' + (round(log(datum.value)/LN10) < 0 ? '⁻' : '') + (abs(round(log(datum.value)/LN10)) >= 10 ? substring('⁰¹²³⁴⁵⁶⁷⁸⁹', floor(abs(round(log(datum.value)/LN10))/10), floor(abs(round(log(datum.value)/LN10))/10) + 1) : '') + substring('⁰¹²³⁴⁵⁶⁷⁸⁹', abs(round(log(datum.value)/LN10)) % 10, abs(round(log(datum.value)/LN10)) % 10 + 1) : ''",
                         "title": "time (s)", "titlePadding": 10}},
                 "y": {"field": "k2", "type": "quantitative", "scale": {"type": "log", "domain": [1e8, 1e16], "nice": false},
                       "axis": {"orient": "left", "values": [1e8,2e8,3e8,4e8,5e8,6e8,7e8,8e8,9e8,1e9,2e9,3e9,4e9,5e9,6e9,7e9,8e9,9e9,1e10,2e10,3e10,4e10,5e10,6e10,7e10,8e10,9e10,1e11,2e11,3e11,4e11,5e11,6e11,7e11,8e11,9e11,1e12,2e12,3e12,4e12,5e12,6e12,7e12,8e12,9e12,1e13,2e13,3e13,4e13,5e13,6e13,7e13,8e13,9e13,1e14,2e14,3e14,4e14,5e14,6e14,7e14,8e14,9e14,1e15,2e15,3e15,4e15,5e15,6e15,7e15,8e15,9e15,1e16],
                         "tickSize": {"condition": {"test": "abs(log(datum.value)/LN10 - round(log(datum.value)/LN10)) < 0.001", "value": -7}, "value": -4},
                         "labelPadding": 11,
                         "labelExpr": "abs(log(datum.value)/LN10 - round(log(datum.value)/LN10)) < 0.001 && round(log(datum.value)/LN10) <= 15 ? '10' + (round(log(datum.value)/LN10) < 0 ? '⁻' : '') + (abs(round(log(datum.value)/LN10)) >= 10 ? substring('⁰¹²³⁴⁵⁶⁷⁸⁹', floor(abs(round(log(datum.value)/LN10))/10), floor(abs(round(log(datum.value)/LN10))/10) + 1) : '') + substring('⁰¹²³⁴⁵⁶⁷⁸⁹', abs(round(log(datum.value)/LN10)) % 10, abs(round(log(datum.value)/LN10)) % 10 + 1) : ''",
                         "title": "k²ₜₒₜ (cm⁻²)", "titleAngle": 270, "titleAlign": "center", "titleBaseline": "middle", "titleX": -64, "titleY": 96.5}}
               }},
              {"data": {"name": "R_k2"}, "mark": {"type": "line", "color": "#1c2590", "strokeWidth": 1.8, "clip": true},
               "encoding": {"x": {"field": "t", "type": "quantitative"}, "y": {"field": "k2", "type": "quantitative"}}}
            ]},
            {"data": {"name": "gamma"}, "mark": {"type": "rule", "color": "#777", "strokeWidth": 1.5, "strokeDash": [1.5, 2.5]},
             "encoding": {"y": {"field": "gamma", "type": "quantitative", "scale": {"type": "log", "domain": [4.07e-6, 407.4], "nice": false},
               "axis": {"orient": "right", "values": [5e-6,6e-6,7e-6,8e-6,9e-6,1e-5,2e-5,3e-5,4e-5,5e-5,6e-5,7e-5,8e-5,9e-5,1e-4,2e-4,3e-4,4e-4,5e-4,6e-4,7e-4,8e-4,9e-4,1e-3,2e-3,3e-3,4e-3,5e-3,6e-3,7e-3,8e-3,9e-3,1e-2,2e-2,3e-2,4e-2,5e-2,6e-2,7e-2,8e-2,9e-2,0.1,0.2,0.3,0.4,0.5,0.6,0.7,0.8,0.9,1,2,3,4,5,6,7,8,9,10,20,30,40,50,60,70,80,90,100,200,300,400],
                 "tickSize": {"condition": {"test": "abs(log(datum.value)/LN10 - round(log(datum.value)/LN10)) < 0.001", "value": -7}, "value": -4},
                 "labelPadding": 15,
                 "labelExpr": "abs(log(datum.value)/LN10 - round(log(datum.value)/LN10)) < 0.001 ? '10' + (round(log(datum.value)/LN10) < 0 ? '⁻' : '') + (abs(round(log(datum.value)/LN10)) >= 10 ? substring('⁰¹²³⁴⁵⁶⁷⁸⁹', floor(abs(round(log(datum.value)/LN10))/10), floor(abs(round(log(datum.value)/LN10))/10) + 1) : '') + substring('⁰¹²³⁴⁵⁶⁷⁸⁹', abs(round(log(datum.value)/LN10)) % 10, abs(round(log(datum.value)/LN10)) % 10 + 1) : ''",
                 "title": "γ", "titleFontSize": 26, "titleAngle": 0, "titleAlign": "center", "titleBaseline": "middle", "titleX": 60, "titleY": 96.5}}}}
          ],
          "resolve": {"scale": {"y": "independent"}}
        }
      ]
    }
  ],
  "resolve": {"scale": {"color": "independent", "x": "independent", "y": "independent"}},
  "config": {
    "view": {"stroke": "#7a7a7a", "strokeWidth": 1.5},
    "axis": {"domain": false, "grid": false, "labelFont": "Liberation Serif", "labelFontSize": 14, "labelColor": "#222", "titleFont": "Liberation Serif", "titleFontSize": 24, "titleFontWeight": "normal", "titleColor": "#222", "tickColor": "#555", "tickWidth": 1, "labelOverlap": false, "labelFlush": false, "labelBound": false},
    "legend": {"labelFont": "Liberation Serif"},
    "title": {"font": "Liberation Sans Narrow, DejaVu Sans Condensed, sans-serif"}
  }
}
